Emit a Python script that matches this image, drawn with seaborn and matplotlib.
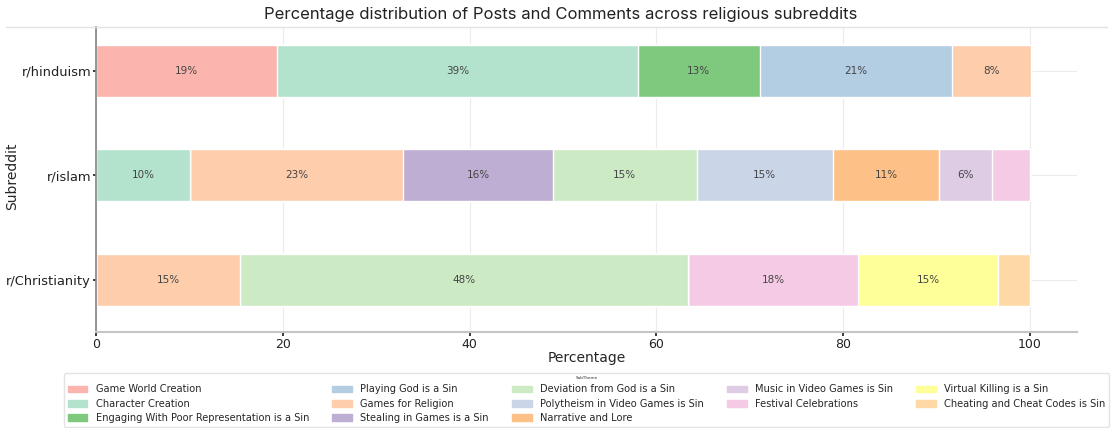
import matplotlib
matplotlib.use("Agg")
import matplotlib.pyplot as plt
import matplotlib.patches as mpatches
from matplotlib.lines import Line2D
import seaborn as sns
import numpy as np
import pandas as pd

subreddits = ["r/hinduism", "r/islam", "r/Christianity"]
themes = [
    "Game World Creation",
    "Character Creation",
    "Engaging With Poor Representation is a Sin",
    "Playing God is a Sin",
    "Games for Religion",
    "Stealing in Games is a Sin",
    "Deviation from God is a Sin",
    "Polytheism in Video Games is Sin",
    "Narrative and Lore",
    "Music in Video Games is Sin",
    "Festival Celebrations",
    "Virtual Killing is a Sin",
    "Cheating and Cheat Codes is Sin",
]
hinduism = [19.4, 38.6, 13.1, 20.6, 8.4, 0, 0, 0, 0, 0, 0, 0, 0]
islam = [0, 10.1, 0, 0, 22.8, 16.0, 15.4, 14.6, 11.4, 5.6, 4.1, 0, 0]
christianity = [0, 0, 0, 0, 15.4, 0, 48.0, 0, 0, 0, 18.2, 15.0, 3.4]

p1 = sns.color_palette("Pastel1", 9)
p2 = sns.color_palette("Pastel2", 8)
acc = sns.color_palette("Accent", 8)
colors = []
for i in range(len(themes)):
    pal = [p1, p2, acc][i % 3]
    colors.append(pal[i // 3])

sns.set_theme(style="whitegrid")
plt.rcParams["font.family"] = ["DejaVu Sans"]

df = pd.DataFrame([hinduism, islam, christianity], index=subreddits, columns=themes)
cum = df.cumsum(axis=1)

fig = plt.figure(figsize=(11.13, 4.28), dpi=100)
ax = fig.add_axes([0.0863, 0.2243, 0.881, 0.7126])

for j in range(len(themes) - 1, -1, -1):
    sns.barplot(x=cum.iloc[:, j].values, y=subreddits, order=subreddits,
                orient="h", color=colors[j], width=0.5, ax=ax,
                saturation=1, zorder=2)

for i, s in enumerate(subreddits):
    for j, t in enumerate(themes):
        v = df.loc[s, t]
        if v >= 5:
            mid = cum.loc[s, t] - v / 2
            ax.text(mid, i, f"{v:.0f}%", ha="center", va="center",
                    fontsize=7.5, color="#444444", zorder=3)

ax.set_xlim(0, 105)
ax.set_ylim(2.5, -0.42)
ax.set_xticks([0, 20, 40, 60, 80, 100])
ax.grid(True, axis="both", color="#ececec", linewidth=0.8, zorder=0)
ax.set_axisbelow(True)
for sp in ["top", "right"]:
    ax.spines[sp].set_visible(False)
ax.spines["left"].set_color("#888888")
ax.spines["bottom"].set_color("#c4c4c4")
ax.spines["bottom"].set_linewidth(1.5)
ax.tick_params(axis="x", labelsize=9, colors="#222222", length=3, pad=1.5,
               bottom=True)
ax.tick_params(axis="y", labelsize=9.4, colors="#222222", length=2, pad=1.5,
               left=True)
ax.set_xlabel("Percentage", fontsize=10, labelpad=0)
ax.set_ylabel("Subreddit", fontsize=10)
ax.yaxis.set_label_coords(-0.078, 0.51)

fig.text(0.504, 0.965,
         "Percentage distribution of Posts and Comments across religious subreddits",
         ha="center", va="center", fontsize=12, family=["Inter", "DejaVu Sans"],
         color="#222222")
fig.add_artist(Line2D([0.005, 0.995], [1 - 27 / 428, 1 - 27 / 428],
                      transform=fig.transFigure, color="#e2e2e2", linewidth=1))

handles = [mpatches.Patch(color=colors[j], label=themes[j]) for j in range(len(themes))]
leg = fig.legend(handles=handles, loc="upper center", bbox_to_anchor=(0.527, 0.141),
                 ncol=5, fontsize=7.1, title="SubTheme", title_fontsize=3,
                 frameon=True, borderpad=0.35, labelspacing=0.45,
                 handlelength=2.0, columnspacing=2.35, handletextpad=0.85)
leg.get_frame().set_edgecolor("#dddddd")

fig.savefig("out.png", dpi=100)
